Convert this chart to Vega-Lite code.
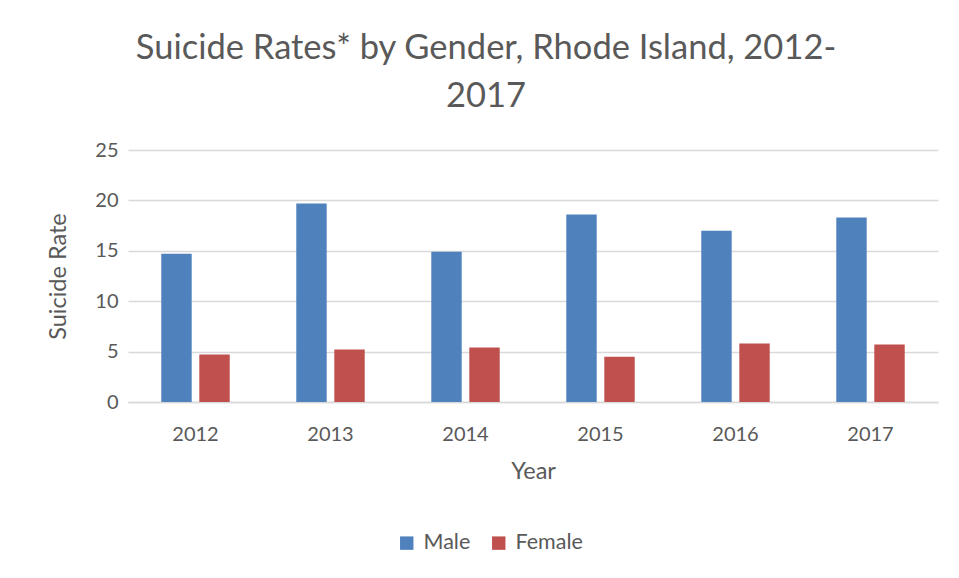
{
  "$schema": "https://vega.github.io/schema/vega-lite/v6.json",
  "width": 810,
  "height": 252,
  "autosize": {"type": "none"},
  "padding": {"left": 128, "top": 150, "right": 21, "bottom": 176},
  "background": "white",
  "title": {
    "text": ["Suicide Rates* by Gender, Rhode Island, 2012-", "2017"],
    "anchor": "middle",
    "dx": -47,
    "offset": 26,
    "font": "Lato",
    "fontSize": 34.5,
    "fontWeight": "normal",
    "color": "#595959",
    "lineHeight": 48
  },
  "data": {
    "values": [
      {"Year": "2012", "Gender": "Male", "Rate": 14.7},
      {"Year": "2012", "Gender": "Female", "Rate": 4.7},
      {"Year": "2013", "Gender": "Male", "Rate": 19.7},
      {"Year": "2013", "Gender": "Female", "Rate": 5.2},
      {"Year": "2014", "Gender": "Male", "Rate": 14.9},
      {"Year": "2014", "Gender": "Female", "Rate": 5.4},
      {"Year": "2015", "Gender": "Male", "Rate": 18.6},
      {"Year": "2015", "Gender": "Female", "Rate": 4.5},
      {"Year": "2016", "Gender": "Male", "Rate": 17.0},
      {"Year": "2016", "Gender": "Female", "Rate": 5.8},
      {"Year": "2017", "Gender": "Male", "Rate": 18.3},
      {"Year": "2017", "Gender": "Female", "Rate": 5.7}
    ]
  },
  "mark": {"type": "bar"},
  "encoding": {
    "x": {
      "field": "Year",
      "type": "nominal",
      "scale": {"paddingInner": 0.493, "paddingOuter": 0.2465},
      "axis": {
        "title": "Year",
        "labelAngle": 0,
        "ticks": false,
        "domain": true,
        "domainColor": "#d9d9d9",
        "domainWidth": 1.5,
        "labelPadding": 22,
        "titlePadding": 15
      }
    },
    "xOffset": {
      "field": "Gender",
      "type": "nominal",
      "sort": ["Male", "Female"],
      "scale": {"paddingInner": 0.2, "paddingOuter": 0}
    },
    "y": {
      "field": "Rate",
      "type": "quantitative",
      "scale": {"domain": [0, 25], "nice": false},
      "axis": {
        "title": "Suicide Rate",
        "values": [0, 5, 10, 15, 20, 25],
        "ticks": false,
        "domain": false,
        "gridColor": "#d9d9d9",
        "gridWidth": 1.5,
        "labelPadding": 10,
        "titlePadding": 24
      }
    },
    "color": {
      "field": "Gender",
      "type": "nominal",
      "sort": ["Male", "Female"],
      "scale": {"domain": ["Male", "Female"], "range": ["#4F81BD", "#C0504D"]},
      "legend": {
        "title": null,
        "orient": "none",
        "direction": "horizontal",
        "legendX": 268,
        "legendY": 382,
        "symbolType": "square",
        "symbolSize": 180,
        "columnPadding": 17,
        "labelOffset": 6
      }
    }
  },
  "config": {
    "view": {"stroke": null},
    "axis": {
      "labelFont": "Lato",
      "titleFont": "Lato",
      "labelFontSize": 20,
      "titleFontSize": 23.5,
      "titleFontWeight": "normal",
      "labelColor": "#595959",
      "titleColor": "#595959"
    },
    "legend": {
      "labelFont": "Lato",
      "labelFontSize": 21.5,
      "labelColor": "#595959",
      "symbolStrokeWidth": 0
    }
  }
}
